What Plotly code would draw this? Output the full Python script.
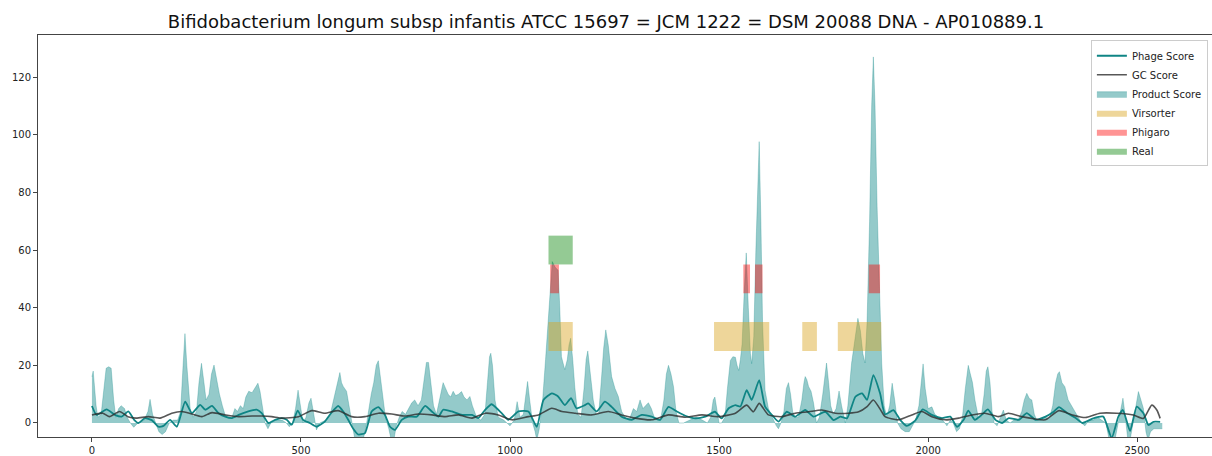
import plotly.graph_objects as go

# Window positions along the genome and the three score tracks
product_x = [0, 3, 10, 14, 22, 28, 34, 40, 46, 52, 57, 64, 70, 78, 84, 92, 100, 110, 125, 134, 139, 145, 152, 160, 168, 176, 185, 195, 205, 212, 218, 222.5, 227, 235, 242, 250, 256, 262, 268, 273, 280, 286, 292, 298, 305, 312, 318, 325, 335, 342, 348, 355, 362, 368, 375, 383, 390, 397, 402, 408, 414, 421, 428, 440, 455, 465, 472, 480, 487, 493, 499, 505, 512, 519, 524, 530, 537, 545, 560, 570, 578, 585, 590, 593, 597, 601, 609, 615, 621, 628, 640, 650, 656, 662, 668, 674, 680, 685, 690, 696, 702, 710, 716, 722, 728, 735, 742, 750, 758, 765, 772, 780, 788, 795, 800, 805, 810, 817, 824, 832, 840, 846, 852, 858, 864, 870, 877, 884, 890, 897, 904, 910, 920, 930, 940, 946, 951, 954, 958, 964, 972, 985, 1000, 1010, 1017, 1024, 1032, 1038, 1042, 1047, 1054, 1060, 1064, 1070, 1078, 1085, 1091, 1097, 1101, 1108, 1115, 1119, 1123, 1131, 1137, 1141, 1145, 1150, 1155, 1162, 1170, 1177, 1182, 1186, 1192, 1199, 1206, 1212, 1218, 1224, 1229, 1235, 1243, 1251, 1259, 1267, 1275, 1285, 1295, 1303, 1311, 1318, 1324, 1331, 1338, 1345, 1352, 1360, 1368, 1374, 1379, 1385, 1391, 1397, 1404, 1415, 1430, 1445, 1460, 1472, 1480, 1486, 1490, 1495, 1500, 1506, 1514, 1520, 1527, 1533, 1539, 1543, 1547, 1551, 1555, 1560, 1565, 1570, 1575, 1578, 1583, 1588, 1593, 1596, 1600, 1604, 1610, 1618, 1624, 1630, 1637, 1642, 1648, 1655, 1661, 1666, 1671, 1676, 1682, 1690, 1698, 1703, 1706, 1710, 1714, 1720, 1726, 1733, 1740, 1748, 1754, 1757, 1762, 1767, 1773, 1780, 1787, 1793, 1802, 1808, 1817, 1825, 1832, 1838, 1844, 1849, 1854, 1860, 1865, 1869, 1873, 1878, 1884, 1889, 1895, 1901, 1908, 1914, 1920, 1927, 1935, 1945, 1955, 1962, 1970, 1978, 1984, 1988, 1993, 2000, 2009, 2016, 2025, 2035, 2045, 2053, 2060, 2068, 2075, 2082, 2089, 2096, 2101, 2106, 2112, 2120, 2127, 2134, 2139, 2143, 2148, 2153, 2158, 2165, 2173, 2180, 2187, 2196, 2205, 2215, 2224, 2230, 2236, 2242, 2248, 2254, 2260, 2270, 2280, 2290, 2298, 2305, 2310, 2314, 2320, 2327, 2335, 2343, 2351, 2360, 2367, 2375, 2385, 2395, 2405, 2415, 2425, 2432, 2440, 2448, 2455, 2461, 2466, 2471, 2477, 2483, 2490, 2496, 2503, 2509, 2515, 2521, 2526, 2532, 2540, 2550, 2560]
product_score = [16, 18, 6, 2, 3, 12, 19, 19.5, 19, 8, 2, 5, 6, 5, 2, 0, -1.5, 0, 1, 4, 8.2, 3, 0, -3, -4, -3, 0, 1, 1, 4, 20, 31, 20, 5, 2, 4, 14, 20.7, 14, 8, 10, 17, 20.1, 15, 10, 6, 3, 2, 2, 5, 4, 6, 5, 9, 11, 10.5, 12, 13.8, 11, 5, 0, -2, 0, 1, 1, 0, -1.3, 0, 5, 11.4, 5, 0, 2, 7, 8.6, 3, -2.4, 0, 1, 3, 8, 12, 16, 17.5, 14, 12.7, 11, 6, 0, -5, -6, -5, -1, 5, 10, 14, 20, 21.6, 16, 8, 2, -2, -6, -6, -1, 2, 4, 3, 5, 7, 8, 6, 8, 16, 21, 21, 15, 6, 3, 8, 14, 12, 10, 9, 11, 9.5, 10, 10.9, 9, 8, 9.2, 6, 2, 1, 3, 14, 23, 24.2, 20, 8, 2, 1, -1, 1, 7.4, 2, 3, 10, 14.4, 8, 0, -3, -6, -2, 8, 22, 35, 50, 56, 54, 53, 40, 23, 18.5, 22, 27, 29.4, 22, 12.3, 3, 2, 12, 22, 25, 18, 8, 3, 3, 14, 26, 32.3, 27, 16.1, 12, 9.2, 4, 2, 1, 5, 4, 8, 5, 6, 7, 5, 2, 1, 1, 8, 17, 20, 17, 12.6, 4, 0, 0, 1, 2, 1, 0, 2, 8, 9, 5, 0, 0, 2, 12, 21.7, 23, 22.8, 20, 18.2, 22, 27.4, 45, 59, 40, 24, 20.6, 30, 60, 90, 97.6, 70, 35, 11.4, 5, 3, 1, -1, -2, 0, 4, 12, 14, 10, 4, 2, 2, 8, 14, 16.1, 15, 12.7, 11, 6.9, 0, 2, 10, 18, 20.8, 14, 6, 3, 5, 11.1, 6, 0, 6, 20.8, 30, 36.3, 32, 24, 20.8, 35, 70, 110, 127, 110, 75, 40, 20.7, 6, 2, 6, 13.8, 8, 0, -2, -3, -3, -1, 1, 6, 16, 20.5, 12, 5, 5.6, 3, 2, 1, -1, 1, 0, -3, -2, 2, 12, 20, 17, 14.1, 8, 2, 2, 10, 18, 19.5, 14, 4, 0, -1, 2, 4.5, 1, 0, 1, 1, 4, 8, 10.3, 8.5, 8, 3, 1, 1, 2, 1.5, 6, 14, 17, 17.8, 14, 12.6, 8, 6, 4.5, 2, 0, -1, 1, 1, 2, 1, 0, -5, -8, -5, 0, 5, 8.6, 3, -5, -6, 0, 6, 10.9, 8, 5, -3, -6, -3, -2, -2, -2]

phage_x = [0, 11, 35, 55, 71, 87, 101, 111, 127, 143, 159, 171, 187, 203, 223, 239, 259, 271, 287, 303, 319, 335, 351, 374, 394, 406, 422, 438, 454, 466, 478, 492, 505, 521, 537, 557, 573, 589, 601, 613, 625, 637, 653, 669, 685, 701, 713, 725, 741, 757, 777, 797, 813, 829, 840, 861, 885, 909, 924, 940, 956, 980, 996, 1020, 1044, 1064, 1080, 1100, 1115, 1131, 1146, 1159, 1179, 1187, 1207, 1227, 1243, 1267, 1291, 1315, 1339, 1359, 1379, 1399, 1419, 1443, 1467, 1490, 1506, 1523, 1539, 1551, 1566, 1578, 1596, 1610, 1630, 1642, 1662, 1682, 1706, 1726, 1754, 1774, 1790, 1806, 1826, 1842, 1854, 1869, 1885, 1897, 1917, 1933, 1949, 1969, 1987, 2009, 2033, 2053, 2069, 2085, 2096, 2112, 2128, 2143, 2161, 2177, 2193, 2217, 2236, 2257, 2281, 2301, 2313, 2333, 2353, 2369, 2395, 2419, 2439, 2455, 2466, 2483, 2499, 2515, 2527, 2539, 2555]
phage_score = [5.9, 2.8, 4.7, 2.8, 2.2, 4, 1.1, 0, 1.7, 1, -1.3, -1, 1.1, -1.3, 7.4, 3.4, 6.3, 4.6, 5.9, 3.4, 2.2, 1.7, 2.8, 4, 4.6, 3.4, 0, 1.1, 1.7, 1.1, -0.6, 4.3, 1.1, 0, -1.3, 0.5, 3.6, 5.9, 4, 1.1, -2, -4, -3.5, 4, 5.5, 2.8, -1.3, -2.4, 1.1, 2.2, 2.2, 5.9, 4, 2.2, 4.6, 4, 2.8, 2.8, 1.7, 4.5, 6.5, 3.4, 1.1, 4, 4, -1.3, 8, 10.3, 9.2, 6.2, 8.6, 5.1, 6.2, 6.8, 4, 7.4, 5.6, 2.2, 1.1, 2.8, 2.2, 1.1, 5.6, 4, 2.5, 1.6, 2.2, 3.9, 1.6, 5.1, 6.2, 5.7, 11.4, 8, 14.9, 5.7, 2.2, 0.5, 3.9, 2.2, 4.5, 2.2, 3.9, 1, 2.2, 1.6, 9.1, 10.3, 8, 16.6, 10.3, 3, 4.5, 1.1, -1, 0.8, 4.7, 2.8, 1.7, 2.2, -1.3, 1.1, 4.3, 1.1, 2.8, 4.7, 1.1, 0, 1.7, 1.1, 3.4, 1.1, 2.2, 4, 5.5, 3.4, 1.7, 0, 1.6, 2.2, -5.2, 2.2, 4.5, -2.8, 5.7, 3.4, -0.7, 0.4, 0.4]

gc_x = [0, 26, 42, 66, 86, 106, 135, 163, 191, 215, 239, 263, 287, 319, 351, 383, 406, 430, 454, 494, 526, 557, 589, 621, 653, 685, 717, 749, 781, 813, 845, 877, 909, 941, 972, 1004, 1044, 1068, 1100, 1124, 1156, 1195, 1235, 1267, 1299, 1339, 1379, 1419, 1459, 1498, 1539, 1566, 1582, 1596, 1618, 1650, 1682, 1714, 1746, 1778, 1810, 1834, 1854, 1869, 1889, 1897, 1929, 1961, 1985, 2009, 2041, 2073, 2105, 2136, 2168, 2192, 2224, 2256, 2280, 2313, 2345, 2376, 2411, 2451, 2491, 2515, 2535, 2547, 2555]
gc_score = [2.8, 3.4, 2.2, 4, 2.2, 1.7, 2.2, 1.7, 3.4, 4, 3.1, 2.2, 3.6, 2.8, 2.2, 2.4, 2.4, 2.2, 1.7, 2.2, 4.3, 3.4, 4.3, 2.2, 2.2, 3.4, 3.1, 2.4, 3.1, 2.8, 2.2, 2.8, 1.7, 3.4, 2.8, 1.1, 2.2, 2.8, 5.1, 4, 3.4, 2.8, 4, 2.8, 1.7, 1.1, 2.8, 2, 2.8, 2.2, 3.4, 6.2, 3.9, 6.8, 2.8, 2.2, 3.4, 3.9, 4.5, 3.4, 3.4, 3.9, 5.7, 8, 3.9, 2.2, 1.1, 2.8, 4, 2.2, 1.1, 1.7, 2.8, 3.4, 2.2, 3.4, 2.2, 1.4, 1.1, 4.3, 2.8, 1.9, 3.4, 3.4, 2.8, 1.6, 6.2, 4.5, 1.6]

# Predicted prophage regions from each tool (start, end)
virsorter_start = [1092, 1488, 1699, 1784]
virsorter_end = [1150, 1620, 1734, 1888]
phigaro_start = [1096, 1558, 1586, 1858]
phigaro_end = [1117, 1574, 1604, 1885]
real_start = [1092]
real_end = [1150]

TITLE = "Bifidobacterium longum subsp infantis ATCC 15697 = JCM 1222 = DSM 20088 DNA - AP010889.1"


def region_polygons(starts, ends, y0, y1):
    xs, ys = [], []
    for s, e in zip(starts, ends):
        xs += [s, e, e, s, s, None]
        ys += [y0, y0, y1, y1, y0, None]
    return xs, ys


fig = go.Figure()

# Product score filled down to zero (drawn first so the lines sit above it)
fig.add_trace(go.Scatter(
    x=product_x, y=product_score, mode="lines", name="Product Score",
    line=dict(width=0.6, color="rgba(0,128,128,0.45)"),
    fill="tozeroy", fillcolor="rgba(0,128,128,0.42)",
    legendrank=3,
))
fig.add_trace(go.Scatter(
    x=phage_x, y=phage_score, mode="lines", name="Phage Score",
    line=dict(width=1.8, color="#0f8585", shape="spline", smoothing=0.5),
    legendrank=1,
))
fig.add_trace(go.Scatter(
    x=gc_x, y=gc_score, mode="lines", name="GC Score",
    line=dict(width=1.6, color="rgba(45,45,45,0.8)", shape="spline", smoothing=0.6),
    legendrank=2,
))

bands = [
    ("Virsorter", virsorter_start, virsorter_end, 25, 35, "rgba(218,165,32,0.45)", 4),
    ("Phigaro", phigaro_start, phigaro_end, 45, 55, "rgba(255,0,0,0.42)", 5),
    ("Real", real_start, real_end, 55, 65, "rgba(0,128,0,0.42)", 6),
]
for name, s, e, y0, y1, col, rank in bands:
    xs, ys = region_polygons(s, e, y0, y1)
    fig.add_trace(go.Scatter(
        x=xs, y=ys, mode="lines", name=name, fill="toself",
        fillcolor=col, line=dict(width=0, color=col), legendrank=rank,
    ))

axis_common = dict(
    showgrid=False, zeroline=False, showline=True, linecolor="#444",
    linewidth=1, ticks="outside", ticklen=4, tickcolor="#444",
    tickfont=dict(family="DejaVu Sans", size=10, color="#222"),
    automargin=False,
)

fig.update_layout(
    width=1212, height=456,
    margin=dict(l=38, r=0, t=35, b=19),
    paper_bgcolor="white", plot_bgcolor="white",
    title=dict(text=TITLE, x=0.5, xanchor="center", xref="container",
               y=1 - 22 / 456, yanchor="middle", yref="container",
               font=dict(family="DejaVu Sans", size=18, color="#111")),
    xaxis=dict(range=[-129, 2679], tickvals=[0, 500, 1000, 1500, 2000, 2500],
               mirror=True, **axis_common),
    yaxis=dict(range=[-4.86, 134.6], tickvals=[0, 20, 40, 60, 80, 100, 120],
               mirror=False, **axis_common),
    legend=dict(x=0.9965, y=0.987, xanchor="right", yanchor="top",
                bgcolor="rgba(255,255,255,0.85)", bordercolor="#ccc",
                borderwidth=1, font=dict(family="DejaVu Sans", size=10, color="#222"),
                tracegroupgap=0, itemwidth=30),
    showlegend=True,
)

fig.write_html("out.html")
